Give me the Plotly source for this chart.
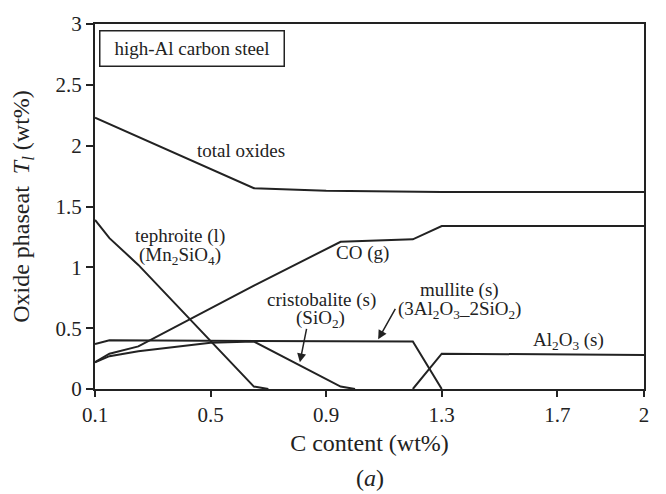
import plotly.graph_objects as go

# C content (wt%) and oxide phase amounts (wt%)
total_x = [0.1, 0.65, 0.9, 1.3, 2.0]
total_y = [2.23, 1.65, 1.63, 1.62, 1.62]

teph_x = [0.1, 0.15, 0.25, 0.5, 0.65, 0.7]
teph_y = [1.39, 1.24, 1.02, 0.39, 0.02, 0.0]

co_x = [0.1, 0.15, 0.25, 0.65, 0.95, 1.2, 1.3, 2.0]
co_y = [0.22, 0.29, 0.35, 0.85, 1.21, 1.23, 1.34, 1.34]

crist_x = [0.1, 0.15, 0.25, 0.5, 0.65, 0.95, 1.0]
crist_y = [0.22, 0.27, 0.31, 0.38, 0.39, 0.02, 0.0]

mull_x = [0.1, 0.15, 1.2, 1.3]
mull_y = [0.37, 0.40, 0.39, 0.0]

al2o3_x = [1.2, 1.3, 2.0]
al2o3_y = [0.0, 0.29, 0.28]

x_ticks = [0.1, 0.5, 0.9, 1.3, 1.7, 2.0]
x_tick_text = ["0.1", "0.5", "0.9", "1.3", "1.7", "2"]
y_ticks = [0, 0.5, 1, 1.5, 2, 2.5, 3]
y_tick_text = ["0", "0.5", "1", "1.5", "2", "2.5", "3"]

FONT = "Liberation Serif, DejaVu Serif, serif"
INK = "#222222"

fig = go.Figure()
for xs, ys in [(total_x, total_y), (teph_x, teph_y), (co_x, co_y),
               (crist_x, crist_y), (mull_x, mull_y), (al2o3_x, al2o3_y)]:
    fig.add_trace(go.Scatter(x=xs, y=ys, mode="lines",
                             line=dict(color=INK, width=2),
                             cliponaxis=False, showlegend=False,
                             hoverinfo="skip"))

def label(x, y, text):
    fig.add_annotation(x=x, y=y, text=text, showarrow=False,
                       font=dict(family=FONT, size=19, color=INK))

label(0.605, 1.963, "total oxides")
label(0.394, 1.257, "tephroite (l)")
label(0.394, 1.094, "(Mn<sub>2</sub>SiO<sub>4</sub>)")
label(1.027, 1.118, "CO (g)")
label(0.884, 0.735, "cristobalite (s)")
label(0.879, 0.575, "(SiO<sub>2</sub>)")
label(1.363, 0.812, "mullite (s)")
label(1.363, 0.651, "(3Al<sub>2</sub>O<sub>3</sub>_2SiO<sub>2</sub>)")
label(1.737, 0.394, "Al<sub>2</sub>O<sub>3</sub> (s)")

# arrows pointing to cristobalite and mullite curves
for hx, hy, ax, ay in [(0.809, 0.219, 7, -35), (1.080, 0.408, 18, -32)]:
    fig.add_annotation(x=hx, y=hy, ax=ax, ay=ay, text="", showarrow=True,
                       arrowhead=2, arrowsize=1.2, arrowwidth=1.5,
                       arrowcolor=INK)

# boxed title inside the plot
fig.add_annotation(x=0.437, y=2.80, text="high-Al carbon steel",
                   showarrow=False, width=183, height=34,
                   bordercolor=INK, borderwidth=1.5, borderpad=0,
                   bgcolor="white",
                   font=dict(family=FONT, size=19, color=INK))

fig.add_annotation(xref="paper", yref="paper", x=0.5, y=-0.244,
                   yanchor="middle", xanchor="center",
                   text="(<i>a</i>)", showarrow=False,
                   font=dict(family=FONT, size=24, color=INK))

axis_common = dict(showline=True, linecolor=INK, linewidth=2, mirror=True,
                   ticks="outside", tickcolor=INK, tickwidth=2,
                   showgrid=False, zeroline=False,
                   tickfont=dict(family=FONT, size=21, color=INK))

fig.update_xaxes(range=[0.1, 2.0], tickvals=x_ticks, ticktext=x_tick_text,
                 ticklen=6,
                 title=dict(text="C content (wt%)", standoff=8,
                            font=dict(family=FONT, size=24, color=INK)),
                 **axis_common)
fig.update_yaxes(range=[0, 3], tickvals=y_ticks, ticktext=y_tick_text,
                 ticklen=7,
                 title=dict(text="Oxide phaseat  <i>T<sub>l</sub></i> (wt%)",
                            standoff=19,
                            font=dict(family=FONT, size=24, color=INK)),
                 **axis_common)

fig.update_layout(width=666, height=494,
                  margin=dict(l=95, r=22, t=16, b=105),
                  paper_bgcolor="white", plot_bgcolor="white")

fig.write_html("out.html")
